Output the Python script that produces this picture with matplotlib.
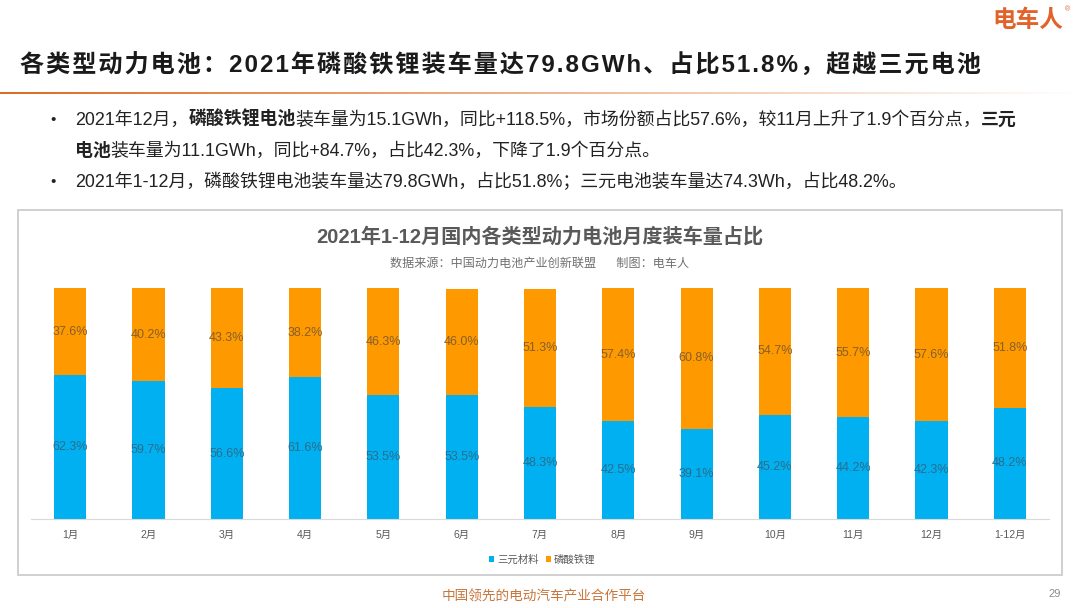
import matplotlib
matplotlib.use('Agg')
import numpy as np
import matplotlib.pyplot as plt
from matplotlib.patches import Rectangle

plt.rcParams['font.family'] = ['Liberation Sans', 'Noto Sans CJK SC', 'DejaVu Sans']

months = ['1月', '2月', '3月', '4月', '5月', '6月', '7月', '8月', '9月', '10月', '11月', '12月', '1-12月']
ternary = [62.3, 59.7, 56.6, 61.6, 53.5, 53.5, 48.3, 42.5, 39.1, 45.2, 44.2, 42.3, 48.2]
lfp = [37.6, 40.2, 43.3, 38.2, 46.3, 46.0, 51.3, 57.4, 60.8, 54.7, 55.7, 57.6, 51.8]

page_title = '各类型动力电池：2021年磷酸铁锂装车量达79.8GWh、占比51.8%，超越三元电池'
chart_title = '2021年1-12月国内各类型动力电池月度装车量占比'
chart_note = '数据来源：中国动力电池产业创新联盟      制图：电车人'
footer = '中国领先的电动汽车产业合作平台'

# (text, bold) runs for each bullet line
line1 = [('2021年12月，', False), ('磷酸铁锂电池', True),
         ('装车量为15.1GWh，同比+118.5%，市场份额占比57.6%，较11月上升了1.9个百分点，', False), ('三元', True)]
line2 = [('电池', True), ('装车量为11.1GWh，同比+84.7%，占比42.3%，下降了1.9个百分点。', False)]
line3 = [('2021年1-12月，磷酸铁锂电池装车量达79.8GWh，占比51.8%；三元电池装车量达74.3Wh，占比48.2%。', False)]

W, H = 1080, 608
BLUE = '#00b0f0'
ORANGE = '#ff9900'

fig = plt.figure(figsize=(W / 100, H / 100), dpi=100, facecolor='white')


def px(x, y):
    return x / W, 1 - y / H


def draw_runs(runs, x, y, size=12.9, color='#222222'):
    # place text pieces one after another so bold parts sit inline
    renderer = fig.canvas.get_renderer()
    for s, bold in runs:
        t = fig.text(*px(x, y), s, fontsize=size, color=color, va='center', ha='left',
                     fontweight='bold' if bold else 'normal')
        x += t.get_window_extent(renderer).width


# header
fig.text(*px(992, 20), '电车人', fontsize=17, fontweight='bold', color='#e2632a', va='center', ha='left')
fig.text(*px(1065, 10), '®', fontsize=5, color='#e2632a', va='center', ha='left')
# the title is letter spaced in the original
fig.text(*px(20, 66), '\u200a'.join(page_title), fontsize=17.4, fontweight='bold', color='#1a1a1a',
         va='center', ha='left')

grad_ax = fig.add_axes([0, 1 - 94 / H, 1, 2 / H])
grad = np.linspace(0, 1, 256).reshape(1, -1, 1)
start = np.array([0.87, 0.42, 0.13]).reshape(1, 1, 3)
grad_ax.imshow(start * (1 - grad) + 1.0 * grad, aspect='auto')
grad_ax.axis('off')

# bullets
for y in (120, 182):
    fig.text(*px(53, y), '•', fontsize=11, color='#222222', va='center', ha='center')
draw_runs(line1, 75, 120)
draw_runs(line2, 75, 151)
draw_runs(line3, 75, 182)

# chart frame
fig.add_artist(Rectangle(px(18, 575), 1044 / W, 365 / H, transform=fig.transFigure,
                         facecolor='white', edgecolor='#c8c8c8', linewidth=1.2, zorder=-1))
fig.text(*px(540, 237), chart_title, fontsize=14.5, fontweight='bold', color='#595959', va='center', ha='center')
fig.text(*px(540, 264), chart_note, fontsize=8.7, color='#707070', va='center', ha='center')

ax = fig.add_axes([31 / W, 1 - 519 / H, 1018 / W, 231 / H])
ax.patch.set_alpha(0)
x = np.arange(len(months))
b1 = ax.bar(x, ternary, width=0.41, color=BLUE, label='三元材料')
b2 = ax.bar(x, lfp, width=0.41, bottom=ternary, color=ORANGE, label='磷酸铁锂')
ax.bar_label(b1, fmt='%.1f%%', label_type='center', fontsize=9, color='#2b6d8c')
ax.bar_label(b2, fmt='%.1f%%', label_type='center', fontsize=9, color='#85602a')

ax.set_xlim(-0.5, len(months) - 0.5)
ax.set_ylim(0, 100)
ax.set_xticks(x, months, fontsize=7.5, color='#595959')
ax.tick_params(axis='x', length=0, pad=8)
ax.set_yticks([])
for side in ('top', 'left', 'right'):
    ax.spines[side].set_visible(False)
ax.spines['bottom'].set_color('#d9d9d9')

fig.legend(loc='center', bbox_to_anchor=px(542, 560), ncol=2, frameon=False, fontsize=7.5,
           labelcolor='#595959', handlelength=0.5, handleheight=0.5, handletextpad=0.3, columnspacing=0.7)

# footer
fig.text(*px(544, 597), footer, fontsize=9.8, color='#c8763a', va='center', ha='center')
fig.text(*px(1055, 594), '29', fontsize=8, color='#8c8c8c', va='center', ha='center')

fig.savefig('out.png', dpi=100)
